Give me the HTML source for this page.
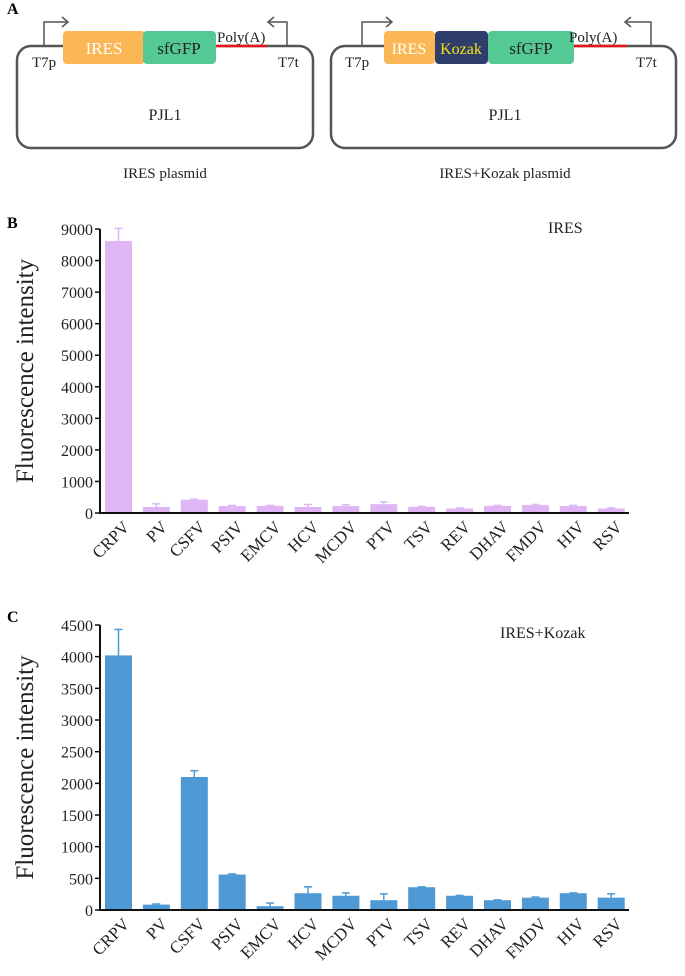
<!DOCTYPE html>
<html><head><meta charset="utf-8"><style>
html,body{margin:0;padding:0;background:#fff;}
svg{display:block;font-family:"Liberation Serif","Times New Roman",serif;}
</style></head><body>
<svg id="fig" width="685" height="976" viewBox="0 0 685 976">
<g>
<text x="7" y="14" font-size="16" font-weight="bold">A</text>
<g>
<rect x="17" y="46" width="296" height="102" rx="14" fill="none" stroke="#555" stroke-width="2.5"/>
<path d="M44 46 V22 H68" fill="none" stroke="#555" stroke-width="1.5"/>
<path d="M62 17 L68 22 L62 27" fill="none" stroke="#555" stroke-width="1.5"/>
<path d="M287 46 V22 H268" fill="none" stroke="#555" stroke-width="1.5"/>
<path d="M274 17 L268 22 L274 27" fill="none" stroke="#555" stroke-width="1.5"/>
<line x1="216" y1="46" x2="267" y2="46" stroke="#e8141c" stroke-width="2.5"/>
<rect x="63" y="31" width="82" height="33" rx="4" fill="#fbb756"/>
<text x="104" y="54" font-size="17" fill="#fff" text-anchor="middle">IRES</text>
<rect x="143" y="31" width="73" height="33" rx="4" fill="#55c994"/>
<text x="179" y="54" font-size="17" fill="#222" text-anchor="middle">sfGFP</text>
<text x="217" y="42" font-size="15" fill="#222">Poly(A)</text>
<text x="32" y="67" font-size="15" fill="#222">T7p</text>
<text x="278" y="67" font-size="15" fill="#222">T7t</text>
<text x="165" y="120" font-size="16" fill="#222" text-anchor="middle">PJL1</text>
<text x="165" y="178" font-size="15" fill="#222" text-anchor="middle">IRES plasmid</text>
</g>
<g>
<rect x="331" y="46" width="345" height="102" rx="14" fill="none" stroke="#555" stroke-width="2.5"/>
<path d="M362 46 V22 H392" fill="none" stroke="#555" stroke-width="1.5"/>
<path d="M386 17 L392 22 L386 27" fill="none" stroke="#555" stroke-width="1.5"/>
<path d="M651 46 V22 H625" fill="none" stroke="#555" stroke-width="1.5"/>
<path d="M631 17 L625 22 L631 27" fill="none" stroke="#555" stroke-width="1.5"/>
<line x1="573" y1="46" x2="627" y2="46" stroke="#e8141c" stroke-width="2.5"/>
<rect x="384" y="31" width="51" height="33" rx="4" fill="#fbb756"/>
<text x="409" y="54" font-size="16" fill="#fff" text-anchor="middle">IRES</text>
<rect x="435" y="31" width="53" height="33" rx="4" fill="#2f3d6c"/>
<text x="461" y="54" font-size="16" fill="#f2e316" text-anchor="middle">Kozak</text>
<rect x="488" y="31" width="86" height="33" rx="4" fill="#55c994"/>
<text x="531" y="54" font-size="17" fill="#222" text-anchor="middle">sfGFP</text>
<text x="569" y="42" font-size="15" fill="#222">Poly(A)</text>
<text x="345" y="67" font-size="15" fill="#222">T7p</text>
<text x="636" y="67" font-size="15" fill="#222">T7t</text>
<text x="505" y="120" font-size="16" fill="#222" text-anchor="middle">PJL1</text>
<text x="505" y="178" font-size="15" fill="#222" text-anchor="middle">IRES+Kozak plasmid</text>
</g>
</g>
<g id="chartB"></g>
<g id="chartC"></g>
</svg>
<script>
const categories = ["CRPV","PV","CSFV","PSIV","EMCV","HCV","MCDV","PTV","TSV","REV","DHAV","FMDV","HIV","RSV"];
const iresValues = [8620,190,420,220,225,190,220,280,195,140,225,250,220,140];
const iresErrors = [400,100,20,20,15,80,40,70,15,20,15,20,20,20];
const iresTicks = [0,1000,2000,3000,4000,5000,6000,7000,8000,9000];
const kozakValues = [4020,85,2100,560,60,265,225,155,360,225,155,195,265,195];
const kozakErrors = [410,10,100,10,50,100,45,100,5,5,5,10,5,60];
const kozakTicks = [0,500,1000,1500,2000,2500,3000,3500,4000,4500];
const NS = "http://www.w3.org/2000/svg";
function mk(parent, tag, attrs){const e=document.createElementNS(NS,tag);for(const k in attrs)e.setAttribute(k,attrs[k]);parent.appendChild(e);return e;}
function drawChart(g, cfg){
  const x0=100,x1=629,y0=cfg.y0,yTop=cfg.yTop,max=cfg.ticks[cfg.ticks.length-1];
  const y=v=>y0-(v/max)*(y0-yTop);
  const pitch=37.9, first=118.5, bw=27;
  const xc=i=>first+i*pitch;
  const lbl=mk(g,'text',{x:7,y:cfg.labelY,'font-size':16,'font-weight':'bold'});
  
  
  lbl.textContent=cfg.letter;
  const tt=mk(g,'text',{x:cfg.titleX,y:cfg.titleY,'font-size':16,fill:'#222'});
  
  
  tt.textContent=cfg.title;
  const yt=mk(g,'text',{x:0,y:0,'font-size':25,'text-anchor':'middle',transform:`translate(33,${(y0+yTop)/2}) rotate(-90)`,fill:'#222'});
  
  
  yt.textContent='Fluorescence intensity';
  cfg.values.forEach((v,i)=>{
    const c=xc(i), top=y(v+cfg.errors[i]);
    const el=mk(g,'line',{x1:c,x2:c,y1:y(v),y2:top,stroke:cfg.color,'stroke-width':1.5});
    
    
    mk(g,'line',{x1:c-4,x2:c+4,y1:top,y2:top,stroke:cfg.color,'stroke-width':1.5});
    const r=mk(g,'rect',{x:c-bw/2,y:y(v),width:bw,height:y0-y(v),fill:cfg.color});
    
    
    const t=mk(g,'text',{x:0,y:0,'font-size':17,'text-anchor':'end',fill:'#222',transform:`translate(${c+12},${y0+15}) rotate(-45)`});
    
    
    t.textContent=categories[i];
  });
  const ax=mk(g,'line',{x1:x0,x2:x0,y1:yTop,y2:y0+1,stroke:'#111','stroke-width':2});
  
  
  const xa=mk(g,'line',{x1:x0-1,x2:x1,y1:y0,y2:y0,stroke:'#111','stroke-width':2});
  
  
  cfg.ticks.forEach(tv=>{
    mk(g,'line',{x1:x0-5,x2:x0,y1:y(tv),y2:y(tv),stroke:'#111','stroke-width':1.5});
    const t=mk(g,'text',{x:x0-7,y:y(tv)+6,'font-size':16,'text-anchor':'end',fill:'#222'});
    
    
    t.textContent=tv;
  });
}
drawChart(document.getElementById('chartB'),{y0:513,yTop:229,ticks:iresTicks,values:iresValues,errors:iresErrors,color:'#dfb6f3',letter:'B',labelY:228,title:'IRES',titleX:548,titleY:233});
drawChart(document.getElementById('chartC'),{y0:910,yTop:625,ticks:kozakTicks,values:kozakValues,errors:kozakErrors,color:'#4f9ad4',letter:'C',labelY:622,title:'IRES+Kozak',titleX:500,titleY:638});
</script>
</body></html>
